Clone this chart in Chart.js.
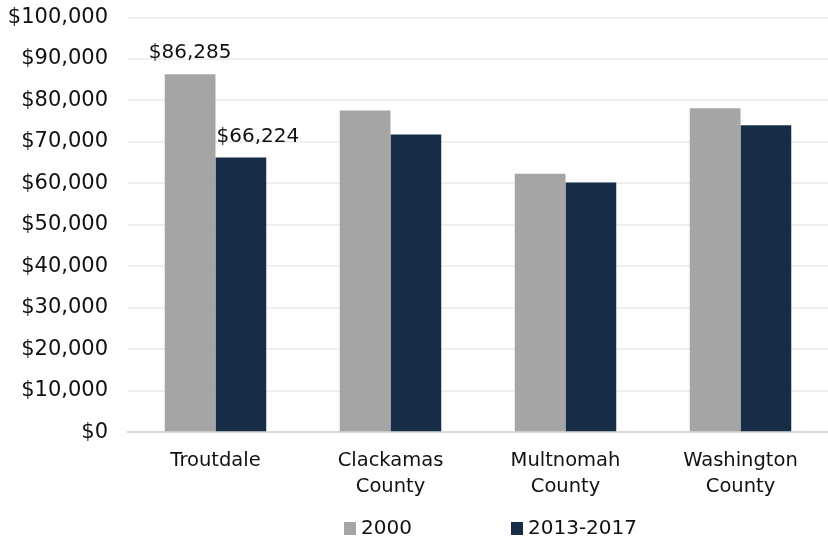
<!DOCTYPE html>
<html>
<head>
<meta charset="utf-8">
<script src="https://cdn.jsdelivr.net/npm/chart.js@4/dist/chart.umd.min.js"></script>
<style>
  html, body { margin: 0; padding: 0; background: #fff; }
  #wrap { width: 828px; height: 538px; position: relative; }
</style>
</head>
<body>
<div id="wrap"><canvas id="chart"></canvas></div>
<script>
const categories = [["Troutdale"], ["Clackamas", "County"], ["Multnomah", "County"], ["Washington", "County"]];
const seriesNames = ["2000", "2013-2017"];
const values2000 = [86285, 77600, 62300, 78100];
const values2013 = [66224, 71800, 60200, 74000];
const colors = ["#a5a5a5", "#172d47"];
// only Troutdale bars carry a value label
const labelIndex = 0;

const FONT = "'DejaVu Sans', sans-serif";

const money = v => "$" + Number(v).toLocaleString("en-US");

// value labels over the Troutdale bars
const valueLabels = {
  id: "valueLabels",
  afterDatasetsDraw(chart) {
    const ctx = chart.ctx;
    ctx.save();
    ctx.font = "20px " + FONT;
    ctx.fillStyle = "#111";
    ctx.textAlign = "center";
    ctx.textBaseline = "alphabetic";
    chart.data.datasets.forEach((ds, i) => {
      const bar = chart.getDatasetMeta(i).data[labelIndex];
      const shift = i === 1 ? 17 : 0;
      ctx.fillText(money(ds.data[labelIndex]), bar.x + shift, bar.y - 16);
    });
    ctx.restore();
  }
};

// legend drawn under the axis labels, spaced like the original
const bottomLegend = {
  id: "bottomLegend",
  afterDraw(chart) {
    const ctx = chart.ctx;
    const area = chart.chartArea;
    const xs = [area.left + 216, area.left + 383];
    const bottom = chart.height - 3;
    ctx.save();
    ctx.font = "20px " + FONT;
    ctx.textBaseline = "alphabetic";
    ctx.textAlign = "left";
    chart.data.datasets.forEach((ds, i) => {
      ctx.fillStyle = ds.backgroundColor;
      ctx.fillRect(xs[i], bottom - 13, 12, 13);
      ctx.fillStyle = "#111";
      ctx.fillText(ds.label, xs[i] + 17, bottom - 1);
    });
    ctx.restore();
  }
};

new Chart(document.getElementById("chart"), {
  type: "bar",
  data: {
    labels: categories,
    datasets: [
      { label: seriesNames[0], data: values2000, backgroundColor: colors[0] },
      { label: seriesNames[1], data: values2013, backgroundColor: colors[1] }
    ]
  },
  options: {
    responsive: true,
    maintainAspectRatio: false,
    animation: false,
    layout: { padding: { top: 8, right: 0, bottom: 22, left: 8 } },
    datasets: {
      bar: { categoryPercentage: 0.58, barPercentage: 1.0 }
    },
    plugins: {
      legend: { display: false },
      tooltip: { enabled: false }
    },
    scales: {
      x: {
        grid: { display: false, drawTicks: false },
        border: { display: true, color: "#d9d9d9", width: 2 },
        ticks: {
          color: "#111",
          padding: 16,
          font: { family: FONT, size: 19.5, lineHeight: 1.33 }
        }
      },
      y: {
        min: 0,
        max: 100000,
        afterFit: scale => { scale.width = 120; scale.paddingTop = 17.5; },
        grid: {
          color: "#efefef",
          lineWidth: 2,
          drawTicks: false
        },
        border: { display: false },
        ticks: {
          stepSize: 10000,
          color: "#111",
          padding: 20,
          font: { family: FONT, size: 21 },
          callback: v => money(v)
        }
      }
    }
  },
  plugins: [valueLabels, bottomLegend]
});
</script>
</body>
</html>
